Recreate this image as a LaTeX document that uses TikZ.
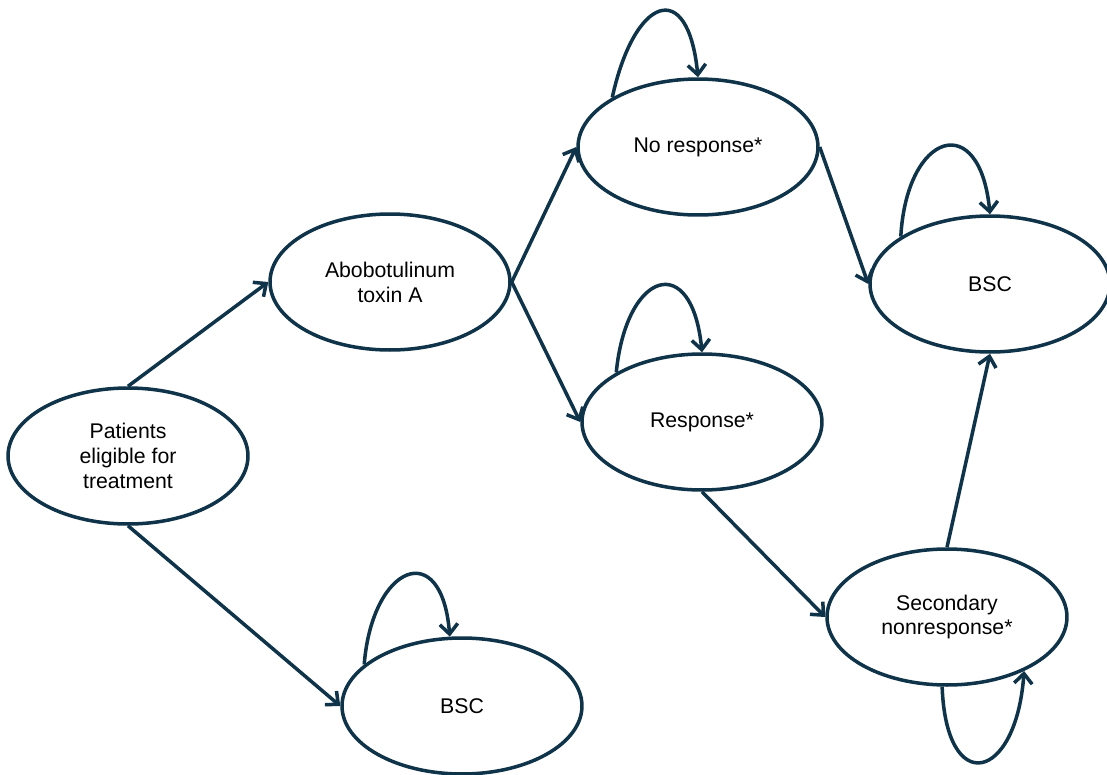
\documentclass[tikz,border=0pt]{standalone}
\usepackage{fontspec}
\setmainfont{Liberation Sans}
\usepackage{tikz}
\usetikzlibrary{shapes.geometric,arrows.meta}
\definecolor{navy}{HTML}{0F3348}
\tikzset{state/.style={ellipse,draw=navy,line width=2pt,minimum width=4.8cm,minimum height=2.72cm,align=center,font=\fontsize{12.1}{14.2}\selectfont}}
\tikzset{arr/.style={draw=navy,line width=2pt,-{Straight Barb[length=2mm,width=3.6mm]}}}

\begin{document}
\begin{tikzpicture}[x=0.02cm,y=-0.02cm]
\useasboundingbox (0,0) rectangle (1107,775);
\node[state] (pat) at (128,456) {Patients\\eligible for\\treatment};
\node[state] (abo) at (390,282) {Abobotulinum\\toxin A};
\node[state] (nores) at (698,147) {No response*};
\node[state] (res) at (702,422) {Response*};
\node[state] (sec) at (947,617) {Secondary\\nonresponse*};
\node[state] (bsca) at (990,284) {BSC};
\node[state] (bscb) at (462,706) {BSC};
\foreach \a/\b in {pat.north/abo.west,pat.south/bscb.west,abo.east/nores.west,abo.east/res.west,nores.east/bsca.west,res.south/sec.west,sec.north/bsca.south}
\draw[arr](\a)--(\b);
\draw[arr](nores.150) .. controls +(22,-101) and +(-10,-101) .. (nores.north);
\draw[arr](bsca.152) .. controls +(6,-105) and +(-10,-105) .. (bsca.north);
\draw[arr](res.150) .. controls +(10,-102) and +(-10,-102) .. (res.north);
\draw[arr](bscb.157) .. controls +(8,-100) and +(-8,-100) .. (bscb.100);
\draw[arr](sec.266) .. controls +(4,111) and +(-8,111) .. (sec.325);
\end{tikzpicture}
\end{document}
